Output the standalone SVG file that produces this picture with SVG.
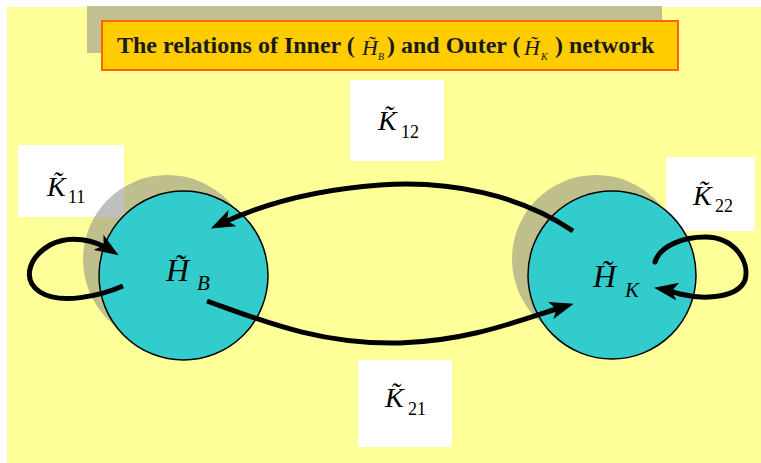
<svg xmlns="http://www.w3.org/2000/svg" width="761" height="463" viewBox="0 0 761 463">
  <style>
    .box { fill: #ffffff; }
    .shadow { fill: #808080; fill-opacity: 0.5; }
    .node { fill: #33cccc; stroke: #000000; stroke-width: 1.5; }
    .math { font-family: "Liberation Serif", "Times New Roman", serif; font-style: italic; fill: #000000; }
    .sub { font-family: "Liberation Serif", "Times New Roman", serif; fill: #000000; }
    .title { font-family: "Liberation Serif", "Times New Roman", serif; font-weight: bold; font-size: 24px; fill: #1a1a1a; }
    .tmath { font-family: "Liberation Serif", "Times New Roman", serif; font-style: italic; fill: #1a1a1a; }
    .edge { fill: none; stroke: #000000; stroke-width: 5; }
  </style>
  <defs>
    <marker id="arrow" viewBox="0 0 12 9" markerUnits="userSpaceOnUse" markerWidth="24" markerHeight="18" refX="8" refY="4.5" orient="auto">
      <path d="M0,0 L12,4.5 L0,9 L3,4.5 z" fill="#000000"/>
    </marker>
  </defs>

  <rect x="7" y="7" width="754" height="456" fill="#ffff99"/>

  <g id="title">
    <rect x="87" y="6" width="575" height="47" fill="#c0c090"/>
    <rect x="102" y="21" width="576" height="49" fill="#ffcc00" stroke="#ff6600" stroke-width="2"/>
    <text class="title" x="117" y="53">The relations of Inner (</text>
    <text class="tmath" x="362" y="55" font-size="22">H&#x303;</text>
    <text class="tmath" x="378" y="60" font-size="10">B</text>
    <text class="title" x="387" y="53">) and Outer (</text>
    <text class="tmath" x="524" y="55" font-size="22">H&#x303;</text>
    <text class="tmath" x="541" y="60" font-size="10">K</text>
    <text class="title" x="555" y="53">) network</text>
  </g>

  <g id="label-K12">
    <rect class="box" x="350" y="80" width="94" height="81"/>
    <text class="math" x="378" y="130" font-size="28">K&#x303;</text>
    <text class="sub" x="401" y="138" font-size="18">12</text>
  </g>
  <g id="label-K21">
    <rect class="box" x="358" y="360" width="94" height="87"/>
    <text class="math" x="385" y="407" font-size="28">K&#x303;</text>
    <text class="sub" x="408" y="415" font-size="18">21</text>
  </g>
  <g id="label-K11">
    <rect class="box" x="18" y="145" width="106" height="72"/>
    <text class="math" x="47" y="196" font-size="28">K&#x303;</text>
    <text class="sub" x="68" y="203" font-size="18">11</text>
  </g>
  <g id="label-K22">
    <rect class="box" x="666" y="157" width="89" height="74"/>
    <text class="math" x="693" y="205" font-size="28">K&#x303;</text>
    <text class="sub" x="715" y="212" font-size="18">22</text>
  </g>

  <g id="node-HB">
    <circle class="shadow" cx="167.5" cy="259.5" r="84.5"/>
    <circle class="node" cx="183.5" cy="275.5" r="84.5"/>
    <text class="math" x="166" y="281" font-size="32">H&#x303;</text>
    <text class="math" x="197" y="290" font-size="21">B</text>
  </g>
  <g id="node-HK">
    <circle class="shadow" cx="596" cy="259" r="84"/>
    <circle class="node" cx="612" cy="275" r="84"/>
    <text class="math" x="593" y="287" font-size="32">H&#x303;</text>
    <text class="math" x="625" y="297" font-size="21">K</text>
  </g>

  <g id="connectors">
    <path class="edge" d="M573,231 C520,195 450,180 380,185 C310,190 260,205 218,225" marker-end="url(#arrow)"/>
    <path class="edge" d="M207,301 C260,320 320,345 400,343 C470,341 520,320 566,306" marker-end="url(#arrow)"/>
    <path class="edge" d="M123,286 C100,296 60,305 40,292 C22,280 28,258 50,245 C70,234 95,240 112,251" marker-end="url(#arrow)"/>
    <path class="edge" stroke-linecap="round" d="M655,262 C660,245 685,237 705,237 C735,237 750,262 745,280 C738,298 705,300 680,294 C672,292 668,290 662,289" marker-end="url(#arrow)"/>
  </g>
</svg>
